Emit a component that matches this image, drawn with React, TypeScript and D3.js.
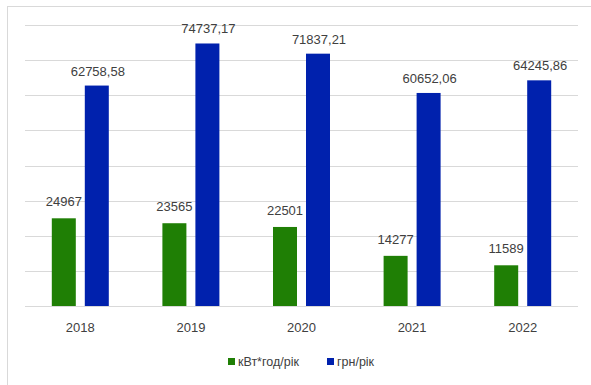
import React from 'react';
import * as d3 from 'd3';

const years = ['2018', '2019', '2020', '2021', '2022'];
const kwhValues = [24967, 23565, 22501, 14277, 11589];
const uahValues = [62758.58, 74737.17, 71837.21, 60652.06, 64245.86];
const kwhLabels = ['24967', '23565', '22501', '14277', '11589'];
const uahLabels = ['62758,58', '74737,17', '71837,21', '60652,06', '64245,86'];
const seriesNames = ['кВт*год/рік', 'грн/рік'];
const yTicks = [0, 10000, 20000, 30000, 40000, 50000, 60000, 70000, 80000];

const width = 591;
const height = 385;
const plot = {left: 25, right: 578, top: 25, bottom: 306};
const green = '#1f7f05';
const blue = '#0021ad';
const textColor = '#404040';
const font = '"Liberation Sans", Arial, sans-serif';

export default function App() {
    const xScale = d3.scaleBand()
        .domain(years)
        .range([plot.left, plot.right]);
    const yScale = d3.scaleLinear()
        .domain([0, 80000])
        .range([plot.bottom, plot.top]);
    const barWidth = 24;
    const gap = 9;

    const greenX = y => xScale(y) + xScale.bandwidth() / 2 - gap / 2 - barWidth;
    const blueX = y => xScale(y) + xScale.bandwidth() / 2 + gap / 2;

    return (
        <svg width={width} height={height} style={{position: 'absolute', left: 0, top: 0, background: '#fff'}}
             fontFamily={font}>
            {/* chart frame */}
            <line x1={7.5} y1={6} x2={7.5} y2={height} stroke="#d9d9d9"/>
            <line x1={7} y1={6.5} x2={width} y2={6.5} stroke="#d9d9d9"/>
            {yTicks.map(t => (
                <line key={t} x1={plot.left} x2={plot.right}
                      y1={Math.round(yScale(t)) + 0.5} y2={Math.round(yScale(t)) + 0.5}
                      stroke="#d9d9d9" strokeWidth={1.2}/>
            ))}
            {years.map((y, i) => (
                <g key={y}>
                    <rect x={greenX(y)} y={yScale(kwhValues[i])} width={barWidth}
                          height={plot.bottom - yScale(kwhValues[i])} fill={green}/>
                    <rect x={blueX(y)} y={yScale(uahValues[i])} width={barWidth}
                          height={plot.bottom - yScale(uahValues[i])} fill={blue}/>
                    <text x={greenX(y) + barWidth / 2} y={yScale(kwhValues[i]) - 12}
                          textAnchor="middle" fontSize={13} fill={textColor}>{kwhLabels[i]}</text>
                    <text x={blueX(y) + barWidth / 2 + 1} y={yScale(uahValues[i]) - 10}
                          textAnchor="middle" fontSize={13} fill={textColor}>{uahLabels[i]}</text>
                    <text x={xScale(y) + xScale.bandwidth() / 2} y={332}
                          textAnchor="middle" fontSize={13} fill={textColor}>{y}</text>
                </g>
            ))}
            {/* legend */}
            <rect x={228} y={358} width={7} height={7} fill={green}/>
            <text x={238} y={366} fontSize={12.5} fill={textColor}>{seriesNames[0]}</text>
            <rect x={327} y={358} width={7} height={7} fill={blue}/>
            <text x={337} y={366} fontSize={12.5} fill={textColor}>{seriesNames[1]}</text>
        </svg>
    );
}
